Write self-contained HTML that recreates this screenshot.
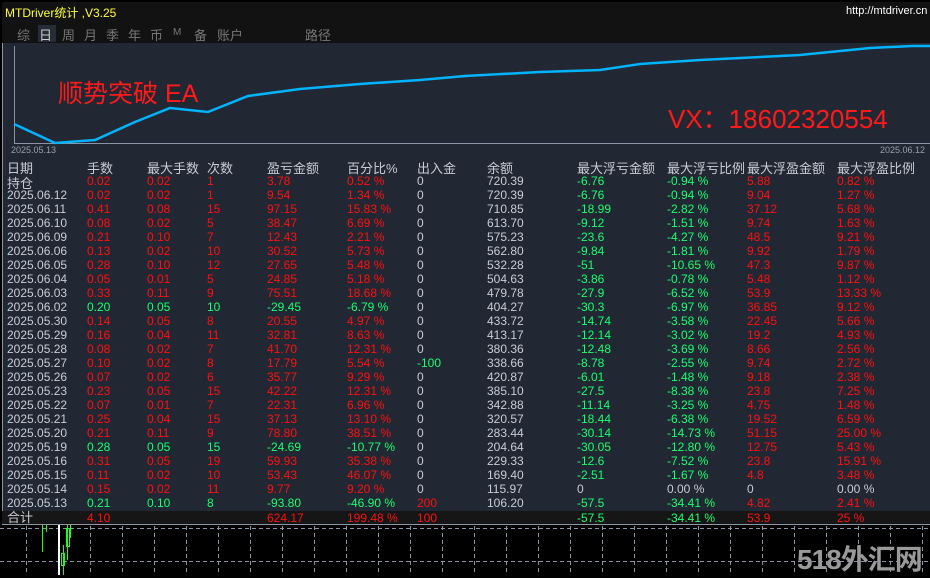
<!DOCTYPE html>
<html><head><meta charset="utf-8"><style>
body{margin:0;width:930px;height:575px;background:#000;overflow:hidden;position:relative;font-family:"Liberation Sans","Noto Sans CJK SC",sans-serif;}
.a{position:absolute;white-space:nowrap;}
#panel{position:absolute;left:2px;top:2px;width:928px;height:522px;background:#212833;border-bottom:1px solid #8a94a6;border-left:1px solid #8a94a6}
#hdr{position:absolute;left:2px;top:2px;width:928px;height:41px;background:#121212}
.t{font-size:12px;line-height:14px;color:#c8ccd4}
.r{color:#ff1010}.g{color:#18ff70}.w{color:#c8ccd4}
.h{font-size:13px;color:#c8ccd4}
</style></head><body>
<div id="panel"></div>
<div id="hdr"></div>
<div class="a" style="left:5px;top:4px;font-size:12px;color:#ffff30">MTDriver统计 ,V3.25</div>
<div class="a" style="left:846px;top:5px;font-size:11px;color:#fff">http://mtdriver.cn</div>
<div class="a" style="left:38px;top:25px;width:18px;height:17px;background:#262d38"></div>
<div class="a" style="left:17px;top:25px;font-size:13px;color:#777">综</div>
<div class="a" style="left:39px;top:25px;font-size:13px;color:#ccc">日</div>
<div class="a" style="left:62px;top:25px;font-size:13px;color:#777">周</div>
<div class="a" style="left:84px;top:25px;font-size:13px;color:#777">月</div>
<div class="a" style="left:106px;top:25px;font-size:13px;color:#777">季</div>
<div class="a" style="left:128px;top:25px;font-size:13px;color:#777">年</div>
<div class="a" style="left:150px;top:25px;font-size:13px;color:#777">币</div>
<div class="a" style="left:173px;top:27px;font-size:10px;color:#777">M</div>
<div class="a" style="left:194px;top:25px;font-size:13px;color:#777">备</div>
<div class="a" style="left:217px;top:25px;font-size:13px;color:#777">账户</div>
<div class="a" style="left:305px;top:25px;font-size:13px;color:#777">路径</div>
<svg class="a" style="left:0;top:0" width="930" height="575">
<line x1="14.5" y1="46" x2="14.5" y2="144" stroke="#8a94a6"/>
<line x1="14" y1="143.5" x2="930" y2="143.5" stroke="#8a94a6"/>
<polyline fill="none" stroke="#00b4ff" stroke-width="2.5" points="14,124 55,143 95,140 135,122 170,108 208,112 248,96 300,89 360,84 420,80 465,76 540,72 600,70 640,64 700,60 800,55 870,48 912,46 930,46"/>
<g stroke="#8a94a6" stroke-dasharray="4,3">
<line x1="0" y1="528.5" x2="930" y2="528.5"/><line x1="0" y1="561.5" x2="930" y2="561.5"/>
<line x1="26.5" y1="526" x2="26.5" y2="575"/><line x1="90.5" y1="526" x2="90.5" y2="575"/><line x1="122.5" y1="526" x2="122.5" y2="575"/><line x1="154.5" y1="526" x2="154.5" y2="575"/><line x1="186.5" y1="526" x2="186.5" y2="575"/><line x1="218.5" y1="526" x2="218.5" y2="575"/><line x1="250.5" y1="526" x2="250.5" y2="575"/><line x1="282.5" y1="526" x2="282.5" y2="575"/><line x1="314.5" y1="526" x2="314.5" y2="575"/><line x1="346.5" y1="526" x2="346.5" y2="575"/><line x1="378.5" y1="526" x2="378.5" y2="575"/><line x1="410.5" y1="526" x2="410.5" y2="575"/><line x1="442.5" y1="526" x2="442.5" y2="575"/><line x1="474.5" y1="526" x2="474.5" y2="575"/><line x1="506.5" y1="526" x2="506.5" y2="575"/><line x1="538.5" y1="526" x2="538.5" y2="575"/><line x1="570.5" y1="526" x2="570.5" y2="575"/><line x1="602.5" y1="526" x2="602.5" y2="575"/><line x1="634.5" y1="526" x2="634.5" y2="575"/><line x1="666.5" y1="526" x2="666.5" y2="575"/><line x1="698.5" y1="526" x2="698.5" y2="575"/><line x1="730.5" y1="526" x2="730.5" y2="575"/><line x1="762.5" y1="526" x2="762.5" y2="575"/><line x1="794.5" y1="526" x2="794.5" y2="575"/><line x1="826.5" y1="526" x2="826.5" y2="575"/><line x1="858.5" y1="526" x2="858.5" y2="575"/><line x1="890.5" y1="526" x2="890.5" y2="575"/><line x1="922.5" y1="526" x2="922.5" y2="575"/>
</g>
<g stroke="#18ff18" stroke-width="1">
<line x1="42.5" y1="525" x2="42.5" y2="552"/><line x1="46.5" y1="525" x2="46.5" y2="532"/>
<line x1="58.5" y1="525" x2="58.5" y2="575"/><line x1="63.5" y1="545" x2="63.5" y2="575"/><line x1="67.5" y1="525" x2="67.5" y2="560"/><line x1="70.5" y1="525" x2="70.5" y2="538"/>
</g>
<rect x="58" y="525" width="2" height="50" fill="#fff"/>
<rect x="61.5" y="553.5" width="3" height="12" fill="none" stroke="#18ff18"/>
<rect x="66.5" y="528.5" width="3" height="18" fill="none" stroke="#18ff18"/>
<rect x="2" y="511" width="928" height="13" fill="#161616"/>
</svg>
<div class="a" style="left:58px;top:74px;font-size:25px;color:#ff1a1a">顺势突破 EA</div>
<div class="a" style="left:668px;top:99px;font-size:26px;color:#ff1a1a">VX：18602320554</div>
<div class="a" style="left:11px;top:145px;font-size:9px;color:#9aa0aa">2025.05.13</div>
<div class="a" style="left:880px;top:145px;font-size:9px;color:#9aa0aa">2025.06.12</div>
<div id="tbl"></div>
<script>
const cols=[7,87,147,207,267,347,417,487,577,667,747,837];
const H=["日期","手数","最大手数","次数","盈亏金额","百分比%","出入金","余额","最大浮亏金额","最大浮亏比例","最大浮盈金额","最大浮盈比例"];
const R=[
["持仓","0.02","0.02","1","3.78","0.52 %","0","720.39","-6.76","-0.94 %","5.88","0.82 %"],
["2025.06.12","0.02","0.02","1","9.54","1.34 %","0","720.39","-6.76","-0.94 %","9.04","1.27 %"],
["2025.06.11","0.41","0.08","15","97.15","15.83 %","0","710.85","-18.99","-2.82 %","37.12","5.68 %"],
["2025.06.10","0.08","0.02","5","38.47","6.69 %","0","613.70","-9.12","-1.51 %","9.74","1.63 %"],
["2025.06.09","0.21","0.10","7","12.43","2.21 %","0","575.23","-23.6","-4.27 %","48.5","9.21 %"],
["2025.06.06","0.13","0.02","10","30.52","5.73 %","0","562.80","-9.84","-1.81 %","9.92","1.79 %"],
["2025.06.05","0.28","0.10","12","27.65","5.48 %","0","532.28","-51","-10.65 %","47.3","9.87 %"],
["2025.06.04","0.05","0.01","5","24.85","5.18 %","0","504.63","-3.86","-0.78 %","5.48","1.12 %"],
["2025.06.03","0.33","0.11","9","75.51","18.68 %","0","479.78","-27.9","-6.52 %","53.9","13.33 %"],
["2025.06.02","0.20","0.05","10","-29.45","-6.79 %","0","404.27","-30.3","-6.97 %","36.85","9.12 %"],
["2025.05.30","0.14","0.05","8","20.55","4.97 %","0","433.72","-14.74","-3.58 %","22.45","5.66 %"],
["2025.05.29","0.16","0.04","11","32.81","8.63 %","0","413.17","-12.14","-3.02 %","19.2","4.93 %"],
["2025.05.28","0.08","0.02","7","41.70","12.31 %","0","380.36","-12.48","-3.69 %","8.66","2.56 %"],
["2025.05.27","0.10","0.02","8","17.79","5.54 %","-100","338.66","-8.78","-2.55 %","9.74","2.72 %"],
["2025.05.26","0.07","0.02","6","35.77","9.29 %","0","420.87","-6.01","-1.48 %","9.18","2.38 %"],
["2025.05.23","0.23","0.05","15","42.22","12.31 %","0","385.10","-27.5","-8.38 %","23.8","7.25 %"],
["2025.05.22","0.07","0.01","7","22.31","6.96 %","0","342.88","-11.14","-3.25 %","4.75","1.48 %"],
["2025.05.21","0.25","0.04","15","37.13","13.10 %","0","320.57","-18.44","-6.38 %","19.52","6.59 %"],
["2025.05.20","0.21","0.11","9","78.80","38.51 %","0","283.44","-30.14","-14.73 %","51.15","25.00 %"],
["2025.05.19","0.28","0.05","15","-24.69","-10.77 %","0","204.64","-30.05","-12.80 %","12.75","5.43 %"],
["2025.05.16","0.31","0.05","19","59.93","35.38 %","0","229.33","-12.6","-7.52 %","23.8","15.91 %"],
["2025.05.15","0.11","0.02","10","53.43","46.07 %","0","169.40","-2.51","-1.67 %","4.8","3.48 %"],
["2025.05.14","0.15","0.02","11","9.77","9.20 %","0","115.97","0","0.00 %","0","0.00 %"],
["2025.05.13","0.21","0.10","8","-93.80","-46.90 %","200","106.20","-57.5","-34.41 %","4.82","2.41 %"]];
let h="";
H.forEach((t,i)=>h+=`<div class="a h" style="left:${cols[i]}px;top:158px">${t}</div>`);
R.forEach((r,j)=>{const y=174+j*14;const neg=r[4][0]=="-";
 r.forEach((t,i)=>{let c="w";
  if(i>=1&&i<=5)c=neg?"g":"r";
  if(i==6)c=t=="0"?"w":(t[0]=="-"?"g":"r");
  if(i==8||i==9)c=t[0]=="-"?"g":"w";
  if(i==10||i==11)c=(t=="0"||t=="0.00 %")?"w":"r";
  if(i==0&&j==0)h+=`<div class="a h" style="left:7px;top:${y-1}px">${t}</div>`;
  else h+=`<div class="a t ${c}" style="left:${cols[i]}px;top:${y}px">${t}</div>`;});});
const T=[[0,"合计","w"],[1,"4.10","r"],[4,"624.17","r"],[5,"199.48 %","r"],[6,"100","r"],[8,"-57.5","g"],[9,"-34.41 %","g"],[10,"53.9","r"],[11,"25 %","r"]];
T.forEach(([i,t,c])=>h+=`<div class="a t ${c}" style="left:${cols[i]}px;top:511px;${i==0?'font-size:13px':''}">${t}</div>`);
document.getElementById("tbl").innerHTML=h;
</script>
<div class="a" style="left:797px;top:538px;font-size:28px;font-weight:bold;color:#9a9a9a;letter-spacing:-1px">518外汇网</div>
</body></html>
